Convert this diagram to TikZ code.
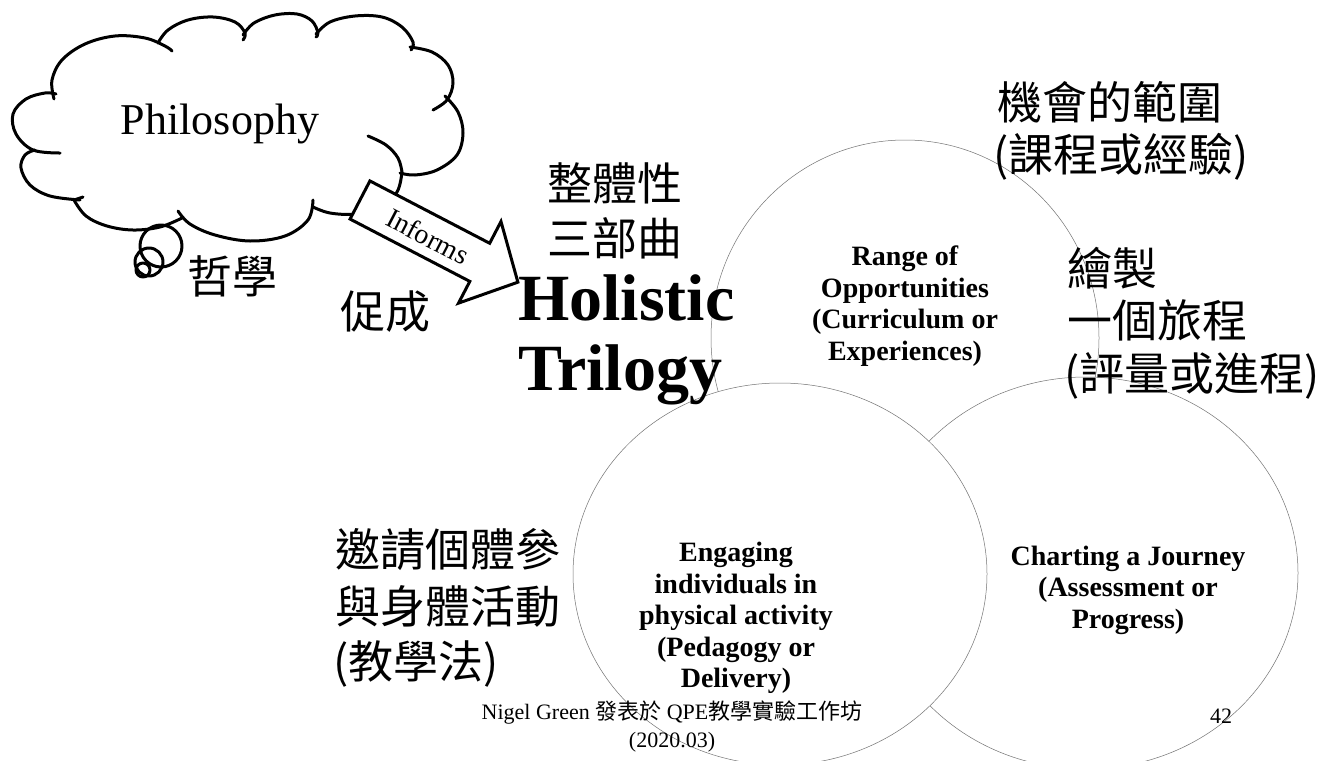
\documentclass[tikz,border=0pt]{standalone}
\usepackage{fontspec}
\setmainfont{Liberation Serif}
\newfontfamily\cjkfont{Noto Sans CJK TC}
\newcommand\zh[1]{{\cjkfont #1}}
\begin{document}
\begin{tikzpicture}[x=1pt,y=-1pt,
  cloudline/.style={line width=3pt, line cap=round, line join=round},
  ring/.style={draw=black!55, line width=0.5pt, fill=white},
  zhbig/.style={font=\cjkfont\fontsize{45}{55}\selectfont, inner sep=0pt},
  circlabel/.style={font=\bfseries\fontsize{28}{31.5}\selectfont, align=center, inner sep=0pt},
  title/.style={font=\bfseries\fontsize{66}{70}\selectfont, inner sep=0pt, anchor=base west}]
\fill[white] (0,0) rectangle (1327,760);
\useasboundingbox (0,0) rectangle (1327,760);
\clip (0,0) rectangle (1327,760);

% circles
\draw[ring] (905,338) circle[x radius=194, y radius=198];
\draw[ring] (1086,573) circle[x radius=212, y radius=196];
\draw[ring] (780,574) circle[x radius=207, y radius=191];

% cloud
\begin{scope}[cloudline]
\draw plot[smooth, tension=0.6] coordinates {(60,153) (33,150) (16,134) (13,114) (26,99) (45,93) (56,94)};
\draw plot[smooth, tension=0.6] coordinates {(54,99) (52,80) (62,60) (85,44) (115,36) (145,38) (165,46) (172,51)};
\draw plot[smooth, tension=0.6] coordinates {(158,43) (168,30) (188,20) (213,17) (235,22) (245,33) (243,40)};
\draw plot[smooth, tension=0.6] coordinates {(243,35) (254,23) (275,15) (297,14) (312,21) (318,33) (316,37)};
\draw plot[smooth, tension=0.6] coordinates {(316,34) (330,22) (355,16) (382,17) (402,27) (413,42) (411,50)};
\draw plot[smooth, tension=0.6] coordinates {(410,47) (432,52) (448,65) (453,83) (447,100) (433,110)};
\draw plot[smooth, tension=0.6] coordinates {(445,96) (458,112) (463,133) (457,155) (437,170) (415,175) (400,173)};
\draw plot[smooth, tension=0.6] coordinates {(368,136) (386,145) (398,158) (402,172)};
\draw plot[smooth, tension=0.6] coordinates {(402,172) (397,192) (380,207) (355,214) (330,213) (313,207)};
\draw plot[smooth, tension=0.6] coordinates {(313,200) (308,220) (285,236) (250,241) (215,235) (190,224) (178,211)};
\draw plot[smooth, tension=0.6] coordinates {(182,218) (160,227) (133,230) (107,226) (86,216) (74,200)};
\draw plot[smooth, tension=0.6] coordinates {(74,200) (83,197)};
\draw plot[smooth, tension=0.6] coordinates {(80,200) (50,196) (30,185) (21,168) (25,155) (35,150)};
\draw (161,246) circle[radius=21];
\draw (149,262) circle[radius=14];
\draw (143,270) circle[radius=7];
\end{scope}
\node[font=\fontsize{44}{50}\selectfont, inner sep=0pt] (philo) at (220,124) {Philosophy};

% Informs arrow
\begin{scope}[shift={(360,200)}, rotate=-27.5]
\draw[line width=3pt, line join=miter, fill=white]
  (0,-21.5) -- (135,-21.5) -- (135,-46) -- (178,0) -- (135,46) -- (135,21.5) -- (0,21.5) -- cycle;
\node[font=\fontsize{28}{30}\selectfont, inner sep=0pt, rotate=-27.5] (informs) at (77,1) {Informs};
\end{scope}

% Chinese labels
\node[zhbig] (zhexue) at (232,276) {哲學};
\node[zhbig] (cucheng) at (385,312) {促成};
\node[zhbig] (zt1) at (615,183) {整體性};
\node[zhbig] (zt2) at (615,238) {三部曲};
\node[title] (hol) at (518,320) {Holistic};
\node[title] (tri) at (518,390) {Trilogy};

\node[zhbig, anchor=west] (jh1) at (997,102) {機會的範圍};
\node[zhbig, anchor=west] (jh2) at (993,157) {(\zh{課程或經驗})};
\node[zhbig, anchor=west] (hz1) at (1067,268) {繪製};
\node[zhbig, anchor=west] (hz2) at (1067,320) {一個旅程};
\node[zhbig, anchor=west] (hz3) at (1064,376) {(\zh{評量或進程})};
\node[zhbig, anchor=west] (yq1) at (335,550) {邀請個體參};
\node[zhbig, anchor=west] (yq2) at (335,606) {與身體活動};
\node[zhbig, anchor=west] (yq3) at (333,664) {(\zh{教學法})};

% circle labels
\node[circlabel] (range) at (905,306) {Range of\\Opportunities\\(Curriculum or\\Experiences)};
\node[circlabel] (engage) at (736,618) {Engaging\\individuals in\\physical activity\\(Pedagogy or\\Delivery)};
\node[circlabel] (chart) at (1128,590) {Charting a Journey\\(Assessment or\\Progress)};

% footer
\node[font=\fontsize{22}{28}\selectfont, align=center, inner sep=0pt] (footer) at (672,726)
  {Nigel Green \zh{發表於} QPE\zh{教學實驗工作坊}\\(2020.03)};
\node[font=\fontsize{22}{25}\selectfont, inner sep=0pt] (page) at (1221,716) {42};
\end{tikzpicture}
\end{document}
